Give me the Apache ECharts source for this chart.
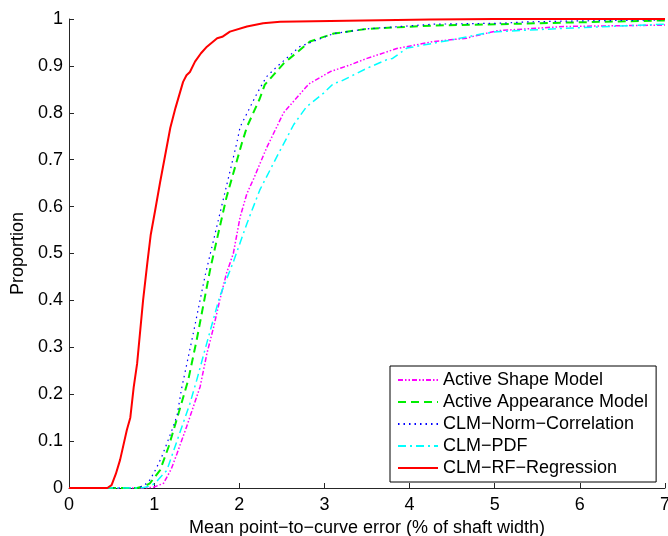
<!DOCTYPE html>
<html>
<head>
<meta charset="utf-8">
<script src="https://cdn.jsdelivr.net/npm/echarts@6/dist/echarts.min.js"></script>
<style>
  html, body { margin: 0; padding: 0; background: #fff; }
  #chart { width: 668px; height: 536px; }
</style>
</head>
<body>
<div id="chart"></div>
<script>
// series names in legend order
var seriesNames = ["Active Shape Model", "Active Appearance Model", "CLM\u2212Norm\u2212Correlation", "CLM\u2212PDF", "CLM\u2212RF\u2212Regression"];

// [error, proportion] points
var asmData = [[0,0],[0.9,0],[1.0,0.002],[1.11,0.01],[1.2,0.04],[1.27,0.074],[1.38,0.13],[1.54,0.216],[1.62,0.287],[1.7,0.344],[1.77,0.4],[1.85,0.458],[1.93,0.5],[2.01,0.578],[2.09,0.628],[2.17,0.66],[2.32,0.725],[2.52,0.8],[2.79,0.856],[2.83,0.863],[3.07,0.888],[3.3,0.902],[3.5,0.916],[3.85,0.937],[4.28,0.952],[4.67,0.959],[4.75,0.963],[5.03,0.975],[5.81,0.984],[7,0.987]];
var aamData = [[0,0],[0.8,0],[0.9,0.005],[0.95,0.01],[1.07,0.038],[1.17,0.088],[1.28,0.155],[1.4,0.23],[1.5,0.316],[1.66,0.468],[1.85,0.62],[2.03,0.735],[2.09,0.77],[2.24,0.83],[2.3,0.86],[2.52,0.905],[2.83,0.952],[3.11,0.969],[3.5,0.979],[4.28,0.986],[5.06,0.989],[6.0,0.993],[7,0.997]];
var normData = [[0,0],[0.8,0],[0.88,0.005],[0.95,0.017],[1.02,0.04],[1.09,0.067],[1.15,0.095],[1.21,0.124],[1.27,0.155],[1.32,0.21],[1.46,0.33],[1.6,0.454],[1.81,0.614],[1.97,0.735],[2.01,0.77],[2.21,0.842],[2.32,0.877],[2.44,0.898],[2.71,0.941],[3.11,0.969],[3.5,0.979],[4.28,0.989],[5.06,0.991],[5.42,0.994],[6.0,0.996],[7,0.998]];
var pdfData = [[0,0],[0.85,0],[0.95,0.004],[1.01,0.01],[1.15,0.038],[1.3,0.117],[1.42,0.18],[1.5,0.23],[1.62,0.31],[1.77,0.408],[1.93,0.482],[2.09,0.564],[2.24,0.635],[2.44,0.706],[2.64,0.775],[2.79,0.813],[2.99,0.842],[3.11,0.863],[3.18,0.866],[3.5,0.895],[3.73,0.913],[3.8,0.916],[3.97,0.938],[4.48,0.955],[4.87,0.969],[5.03,0.973],[5.81,0.98],[7,0.989]];
var rfData = [[0,0],[0.45,0],[0.5,0.006],[0.55,0.03],[0.6,0.06],[0.68,0.124],[0.72,0.15],[0.76,0.215],[0.8,0.265],[0.87,0.4],[0.92,0.48],[0.96,0.54],[1.01,0.59],[1.07,0.652],[1.13,0.71],[1.19,0.768],[1.25,0.81],[1.34,0.866],[1.38,0.88],[1.42,0.887],[1.48,0.909],[1.55,0.927],[1.62,0.941],[1.74,0.959],[1.8,0.962],[1.89,0.973],[2.09,0.984],[2.28,0.991],[2.48,0.994],[3.07,0.996],[4.24,0.999],[5.0,1.0],[7,1.0]];

var xTicks = [0, 1, 2, 3, 4, 5, 6, 7];
var yTicks = [0, 0.1, 0.2, 0.3, 0.4, 0.5, 0.6, 0.7, 0.8, 0.9, 1];

var font = "Liberation Sans, Arial, Helvetica, sans-serif";

function makeLine(name, data, color, width, dash) {
  return {
    name: name,
    type: "line",
    data: data,
    symbol: "none",
    smooth: false,
    animation: false,
    lineStyle: { color: color, width: width, type: dash },
    itemStyle: { color: color }
  };
}

var chart = echarts.init(document.getElementById("chart"));
chart.setOption({
  backgroundColor: "#fff",
  animation: false,
  grid: { left: 69, right: 3, top: 19, bottom: 48, containLabel: false, outerBoundsMode: "none" },
  xAxis: {
    type: "value",
    min: xTicks[0],
    max: xTicks[xTicks.length - 1],
    interval: 1,
    name: "Mean point\u2212to\u2212curve error (% of shaft width)",
    nameLocation: "middle",
    nameGap: 26,
    nameTextStyle: { fontFamily: font, fontSize: 18, color: "#000" },
    axisLine: { show: true, lineStyle: { color: "#262626", width: 1 } },
    axisTick: { show: true, inside: true, length: 5, lineStyle: { color: "#262626" } },
    axisLabel: { fontFamily: font, fontSize: 18, color: "#000", margin: 8 },
    splitLine: { show: false }
  },
  yAxis: {
    type: "value",
    min: yTicks[0],
    max: yTicks[yTicks.length - 1],
    interval: 0.1,
    name: "Proportion",
    nameLocation: "middle",
    nameGap: 42,
    nameTextStyle: { fontFamily: font, fontSize: 18, color: "#000" },
    axisLine: { show: true, lineStyle: { color: "#262626", width: 1 } },
    axisTick: { show: true, inside: true, length: 5, lineStyle: { color: "#262626" } },
    axisLabel: {
      fontFamily: font, fontSize: 18, color: "#000", margin: 6,
      formatter: function (v) { return String(Math.round(v * 10) / 10); }
    },
    splitLine: { show: false }
  },
  legend: {
    data: seriesNames,
    orient: "vertical",
    left: 390,
    top: 366,
    padding: [5, 8, 5, 7],
    itemGap: 4,
    itemWidth: 40,
    itemHeight: 14,
    borderColor: "#000",
    borderWidth: 1,
    borderRadius: 0,
    backgroundColor: "#fff",
    itemStyle: { opacity: 0 },
    textStyle: { fontFamily: font, fontSize: 18, color: "#000" }
  },
  series: [
    makeLine(seriesNames[0], asmData, "#ff00ff", 1.5, [5, 2, 1.5, 2, 1.5, 2]),
    makeLine(seriesNames[1], aamData, "#00ee00", 2, [8, 5]),
    makeLine(seriesNames[2], normData, "#0000ff", 1.2, [1.5, 4]),
    makeLine(seriesNames[3], pdfData, "#00ffff", 1.5, [8, 4, 2, 4]),
    makeLine(seriesNames[4], rfData, "#ff0000", 2, "solid")
  ]
});

window.addEventListener("resize", function () { chart.resize(); });
</script>
</body>
</html>
